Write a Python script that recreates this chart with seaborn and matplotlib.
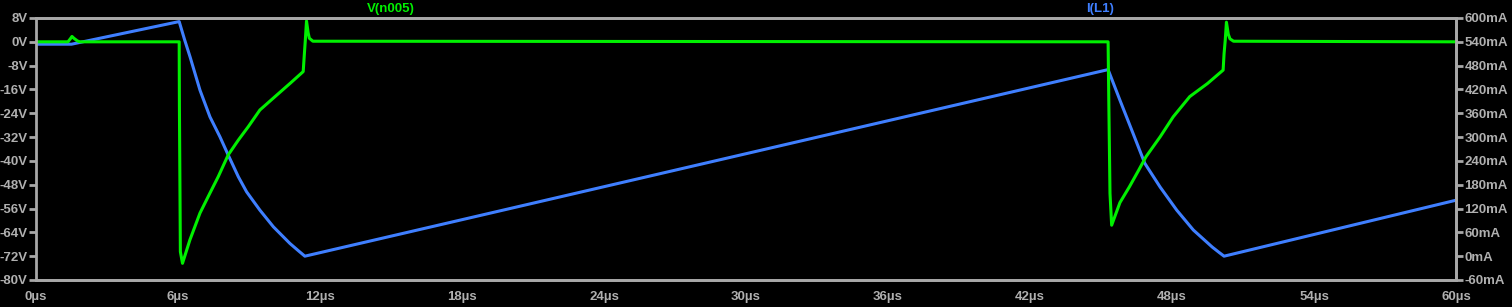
import matplotlib
matplotlib.use("Agg")
import matplotlib.pyplot as plt
import seaborn as sns
import pandas as pd

# ---- data ----
v_time = [0, 1.35, 1.45, 1.52, 1.6, 1.75, 1.85, 6.05, 6.06, 6.1, 6.19, 6.5, 6.93, 7.35,
          7.7, 8.12, 8.55, 8.97, 9.46, 10.1, 10.73, 11.29, 11.34, 11.38, 11.43, 11.5,
          11.55, 11.7, 45.3, 45.33, 45.38, 45.45, 45.8, 46.2, 46.6, 46.9, 47.5, 48.05,
          48.75, 49.5, 50.16, 50.2, 50.25, 50.3, 50.38, 50.45, 50.6, 60]
v_n005 = [0, 0, 1.0, 1.8, 1.2, 0.3, 0, 0, -22, -70.5, -74.4, -66.6, -57.5, -50.8,
          -45.3, -38, -33, -28.5, -22.9, -18.4, -14, -10, -4, 0.6, 7.0, 3.0,
          1.2, 0.2, 0, -20, -50.9, -61.6, -54, -48.7, -43, -38.6, -31.9, -25.2,
          -18.4, -14, -9.5, -4, 0.6, 6.6, 2.5, 1.0, 0.2, 0]

i_time = [0, 1.5, 6.05, 6.28, 6.51, 6.93, 7.35, 7.77, 8.12, 8.55, 8.9, 9.46, 10.03, 10.73,
          11.1, 11.36, 45.3, 45.8, 46.35, 46.85, 47.5, 48.2, 48.9, 49.7, 50.0, 50.2, 60]
i_l1 = [534, 534, 591, 545, 502, 418, 351, 301, 255, 200, 162, 116, 74, 32,
        13, 0, 470, 393, 310, 234, 174, 116, 66, 23, 9, 0, 141]

x_ticks = [0, 6, 12, 18, 24, 30, 36, 42, 48, 54, 60]
x_labels = [f"{t}µs" for t in x_ticks]
v_ticks = [8, 0, -8, -16, -24, -32, -40, -48, -56, -64, -72, -80]
v_labels = [f"{v}V" for v in v_ticks]
i_ticks = [600, 540, 480, 420, 360, 300, 240, 180, 120, 60, 0, -60]
i_labels = [f"{i}mA" for i in i_ticks]

GREEN = "#00f000"
BLUE = "#3f7fff"
GRAY = "#a8a8a8"
LABEL = "#b0b0b0"

sns.set_style("dark")
plt.rcParams["font.family"] = ["Liberation Sans", "DejaVu Sans"]
plt.rcParams["font.weight"] = "bold"

fig = plt.figure(figsize=(15.12, 3.07), dpi=100, facecolor="black")
ax = fig.add_axes([36 / 1512, 1 - 280 / 307, (1456 - 36) / 1512, (280 - 18) / 307])
ax.set_facecolor("black")
ax2 = ax.twinx()
ax2.set_facecolor("none")

dv = pd.DataFrame({"t": v_time, "v": v_n005})
di = pd.DataFrame({"t": i_time, "i": i_l1})

sns.lineplot(data=di, x="t", y="i", ax=ax2, color=BLUE, lw=2.2, sort=False, estimator=None)
sns.lineplot(data=dv, x="t", y="v", ax=ax, color=GREEN, lw=2.2, sort=False, estimator=None)
ax.set_zorder(2)
ax.patch.set_visible(False)
ax2.set_zorder(1)
fig.patch.set_facecolor("black")

ax.set_xlim(0, 60)
ax.set_ylim(-80, 8)
ax2.set_ylim(-60, 600)

ax.set_xticks(x_ticks)
ax.set_xticklabels(x_labels)
ax.set_yticks(v_ticks)
ax.set_yticklabels(v_labels)
ax2.set_yticks(i_ticks)
ax2.set_yticklabels(i_labels)

for a in (ax, ax2):
    a.grid(False)
    a.set_xlabel("")
    a.set_ylabel("")
    for s in a.spines.values():
        s.set_color(GRAY)
        s.set_linewidth(2)
        s.set_visible(True)
    a.tick_params(colors=GRAY, labelcolor=LABEL, width=2, length=5, direction="out",
                  labelsize=9.5, pad=1)

ax.tick_params(axis="x", pad=3)
ax2.spines["left"].set_visible(False)

fig.text(391 / 1512, 1 - 9 / 307, "V(n005)", color=GREEN, fontsize=9.5,
         fontweight="bold", ha="center", va="center")
fig.text(1100 / 1512, 1 - 9 / 307, "I(L1)", color=BLUE, fontsize=9.5,
         fontweight="bold", ha="center", va="center")

fig.savefig("out.png", dpi=100, facecolor="black")
